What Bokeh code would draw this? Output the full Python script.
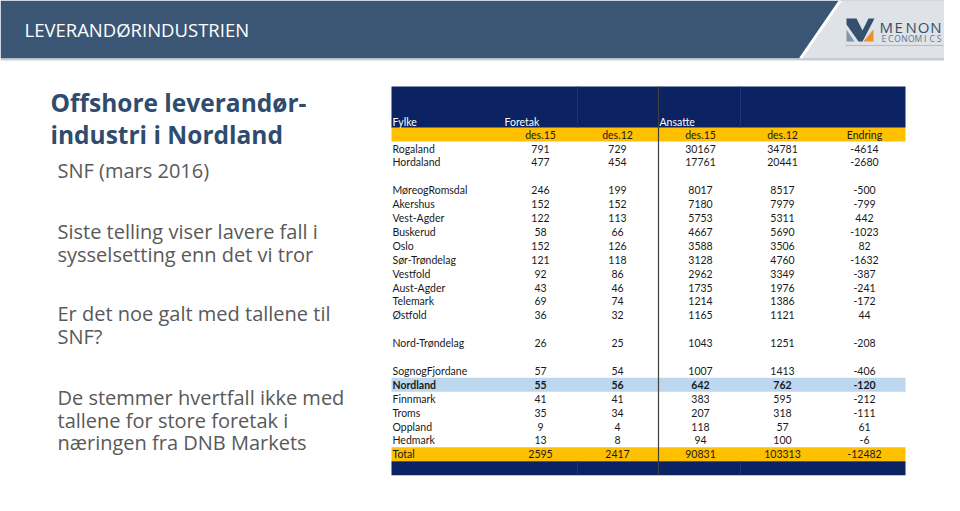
from bokeh.plotting import figure
from bokeh.models import ColumnDataSource, Range1d
from bokeh.core.properties import value
from bokeh.embed import file_html
from bokeh.resources import INLINE

# ---------------- data ----------------
fylke = ["Rogaland", "Hordaland", "MøreogRomsdal", "Akershus", "Vest-Agder", "Buskerud",
         "Oslo", "Sør-Trøndelag", "Vestfold", "Aust-Agder", "Telemark", "Østfold",
         "Nord-Trøndelag", "SognogFjordane", "Nordland", "Finnmark", "Troms", "Oppland", "Hedmark"]
foretak_des15 = [791, 477, 246, 152, 122, 58, 152, 121, 92, 43, 69, 36, 26, 57, 55, 41, 35, 9, 13]
foretak_des12 = [729, 454, 199, 152, 113, 66, 126, 118, 86, 46, 74, 32, 25, 54, 56, 41, 34, 4, 8]
ansatte_des15 = [30167, 17761, 8017, 7180, 5753, 4667, 3588, 3128, 2962, 1735, 1214, 1165,
                 1043, 1007, 642, 383, 207, 118, 94]
ansatte_des12 = [34781, 20441, 8517, 7979, 5311, 5690, 3506, 4760, 3349, 1976, 1386, 1121,
                 1251, 1413, 762, 595, 318, 57, 100]
endring = [-4614, -2680, -500, -799, 442, -1023, 82, -1632, -387, -241, -172, 44,
           -208, -406, -120, -212, -111, 61, -6]
gruppe = [0, 0, 1, 1, 1, 1, 1, 1, 1, 1, 1, 1, 2, 3, 3, 3, 3, 3, 3]
uthevet = "Nordland"
total_label = "Total"
total_values = [2595, 2417, 90831, 103313, -12482]
group_headers = ["Fylke", "Foretak", "Ansatte"]
col_headers = ["des.15", "des.12", "des.15", "des.12", "Endring"]

slide_title = "LEVERANDØRINDUSTRIEN"
heading_lines = ["Offshore leverandør-", "industri i Nordland"]
sub_heading = "SNF (mars 2016)"
body_blocks = [["Siste telling viser lavere fall i", "sysselsetting enn det vi tror"],
               ["Er det noe galt med tallene til", "SNF?"],
               ["De stemmer hvertfall ikke med", "tallene for store foretak i", "næringen fra DNB Markets"]]

# ---------------- layout / style ----------------
W, H = 944, 495

def px(v):
    return value(f"{v}px")

NAVY = "#0b2263"
GOLD = "#ffc000"
LIGHTBLUE = "#bdd7ee"
BAND = "#3b5675"
HEAD_BLUE = "#2f4c6e"
GREY_TXT = "#595959"
TFONT = value("Lato")
LFONT = value("Open Sans")
TSIZE = 10.5

p = figure(width=W, height=H, x_range=Range1d(0, W), y_range=Range1d(H, 0),
           toolbar_location=None, output_backend="svg", min_border=0,
           background_fill_color="white", border_fill_color="white")
p.axis.visible = False
p.grid.visible = False
p.outline_line_color = None

# header band
p.quad(left=[0], right=[W], top=[0], bottom=[58], fill_color=BAND, line_color=None)
p.patch([840, W, W, 800], [0, 0, 58, 58], fill_color="#dfe2e6", line_color=None)
p.line([840, 800], [0, 58], line_color="white", line_width=3)
p.quad(left=[0], right=[W], top=[58], bottom=[60], fill_color="#c9ced4", line_color=None)
p.text(x=[24], y=[29], text=[slide_title], text_color="white", text_font=LFONT,
       text_font_size=px(18.5), text_baseline="middle", text_align="left")

# logo
p.patch([846, 856, 862, 868, 874, 862, 858, 846], [18, 18, 30, 18, 18, 41, 41, 24],
        fill_color="#34506e", line_color=None)
p.patch([846, 854, 846], [29, 41, 41], fill_color="#7f96ad", line_color=None)
p.patch([863, 873, 873], [41, 41, 29], fill_color="#e8912d", line_color=None)
menon = "MENON"
p.text(x=[885.8 + i * 12.4 for i in range(len(menon))], y=[26] * len(menon), text=list(menon),
       text_color="#34506e", text_font=LFONT, text_font_size=px(15),
       text_baseline="middle", text_align="center")
eco = "ECONOMICS"
p.text(x=[883.3 + i * 6.9 for i in range(len(eco))], y=[37.5] * len(eco), text=list(eco),
       text_color="#5a7896", text_font=LFONT, text_font_size=px(8.5),
       text_baseline="middle", text_align="center")
p.line([845, 943], [45, 45], line_color="#d8b68a", line_width=1)

# left text
p.text(x=[50] * len(heading_lines), y=[102 + 31.5 * i for i in range(len(heading_lines))],
       text=heading_lines, text_color=HEAD_BLUE, text_font=LFONT, text_font_style="bold",
       text_font_size=px(24.5), text_baseline="middle", text_align="left")
p.text(x=[57], y=[170], text=[sub_heading], text_color=GREY_TXT, text_font=LFONT,
       text_font_size=px(20), text_baseline="middle", text_align="left")
block_tops = [231, 313, 397]
bx, by, bt = [], [], []
for top, lines in zip(block_tops, body_blocks):
    for j, ln in enumerate(lines):
        bx.append(57); by.append(top + 22.5 * j); bt.append(ln)
p.text(x=bx, y=by, text=bt, text_color=GREY_TXT, text_font=LFONT,
       text_font_size=px(20), text_baseline="middle", text_align="left")

# ---------------- table ----------------
T_L, T_R = 391, 905
ROW0, STEP = 148, 13.9
col_x = [540, 617, 700, 782, 864]
sep_x = 658

def yc(slot):
    return ROW0 + STEP * slot

slots = [i + g for i, g in enumerate(gruppe)]
total_slot = slots[-1] + 1

# header blocks
p.quad(left=[T_L], right=[T_R], top=[86], bottom=[yc(-1) - STEP / 2], fill_color=NAVY, line_color=None)
p.quad(left=[T_L], right=[T_R], top=[yc(-1) - STEP / 2], bottom=[yc(-1) + STEP / 2],
       fill_color=GOLD, line_color=None)
# highlighted row
hi = slots[fylke.index(uthevet)]
p.quad(left=[T_L], right=[T_R], top=[yc(hi) - STEP / 2], bottom=[yc(hi) + STEP / 2],
       fill_color=LIGHTBLUE, line_color=None)
# total row and footer
p.quad(left=[T_L], right=[T_R], top=[yc(total_slot) - STEP / 2], bottom=[yc(total_slot) + STEP / 2],
       fill_color=GOLD, line_color=None)
p.quad(left=[T_L], right=[T_R], top=[yc(total_slot) + STEP / 2], bottom=[yc(total_slot) + STEP * 1.5],
       fill_color=NAVY, line_color=None)
# subtle column lines in navy
for xs in (577, 740):
    p.line([xs, xs], [86, yc(-1) - STEP / 2], line_color="#1c3377", line_width=1)
    p.line([xs, xs], [yc(total_slot) + STEP / 2, yc(total_slot) + STEP * 1.5], line_color="#1c3377", line_width=1)
p.line([sep_x, sep_x], [86, yc(total_slot) + STEP * 1.5], line_color="#404040", line_width=1.2)

# header texts
p.text(x=[392, 504, 659], y=[yc(-2) + 1] * 3, text=group_headers, text_color="white",
       text_font=TFONT, text_font_size=px(TSIZE), text_baseline="middle", text_align="left")
p.text(x=col_x, y=[yc(-1)] * 5, text=col_headers, text_color="#1a1a1a",
       text_font=TFONT, text_font_size=px(TSIZE), text_baseline="middle", text_align="center")

# body
src = ColumnDataSource(dict(
    fylke=fylke, y=[yc(s) for s in slots],
    f15=[str(v) for v in foretak_des15], f12=[str(v) for v in foretak_des12],
    a15=[str(v) for v in ansatte_des15], a12=[str(v) for v in ansatte_des12],
    en=[str(v) for v in endring],
    style=["bold" if f == uthevet else "normal" for f in fylke],
))
p.text(x=392, y="y", text="fylke", source=src, text_color="#1a1a1a", text_font=TFONT,
       text_font_size=px(TSIZE), text_font_style="style", text_baseline="middle", text_align="left")
for cx, key in zip(col_x, ["f15", "f12", "a15", "a12", "en"]):
    p.text(x=cx, y="y", text=key, source=src, text_color="#1a1a1a", text_font=TFONT,
           text_font_size=px(TSIZE), text_font_style="style", text_baseline="middle", text_align="center")

# total
p.text(x=[392], y=[yc(total_slot)], text=[total_label], text_color="#1a1a1a", text_font=TFONT,
       text_font_size=px(TSIZE), text_baseline="middle", text_align="left")
p.text(x=col_x, y=[yc(total_slot)] * 5, text=[str(v) for v in total_values], text_color="#1a1a1a",
       text_font=TFONT, text_font_size=px(TSIZE), text_baseline="middle", text_align="center")

open("out.html", "w").write(file_html(p, INLINE))
